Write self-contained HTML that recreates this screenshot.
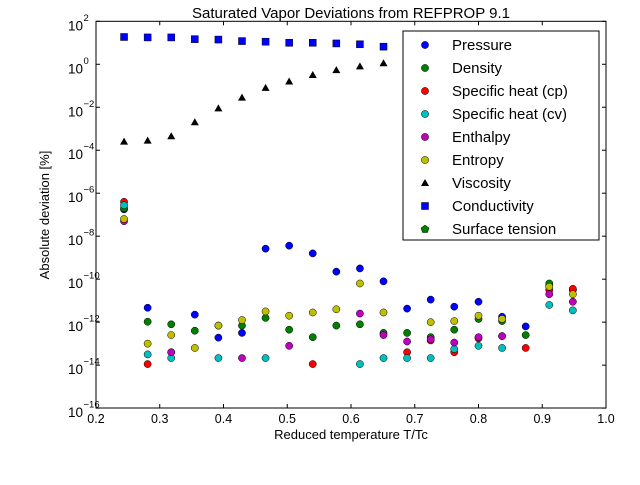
<!DOCTYPE html>
<html><head><meta charset="utf-8"><style>
body{margin:0;background:#fff;}
svg{font-family:"Liberation Sans","DejaVu Sans",sans-serif;}
</style></head><body>
<svg id="chart" width="640" height="480" xmlns="http://www.w3.org/2000/svg">
<rect x="0" y="0" width="640" height="480" fill="#fff"/>
<text x="351" y="18" font-size="15" text-anchor="middle">Saturated Vapor Deviations from REFPROP 9.1</text>
<g id="marks"></g>
<rect x="96" y="21.3" width="510" height="386.7" fill="none" stroke="#000" stroke-width="1"/>
<g id="axes"></g>
<text x="351" y="439" font-size="13" text-anchor="middle">Reduced temperature T/Tc</text>
<text transform="translate(49,215) rotate(-90)" font-size="13" text-anchor="middle">Absolute deviation [%]</text>
<g id="legend"></g>
</svg>
<script>
const temps=[0.244,0.281,0.318,0.355,0.392,0.429,0.466,0.503,0.540,0.577,0.614,0.651,0.688,0.725,0.762,0.800,0.837,0.874,0.911,0.948];
const pressure=[-6.75,-11.33,null,-11.65,-12.72,-12.5,-8.58,-8.44,-8.8,-9.65,-9.5,-10.1,-11.37,-10.95,-11.28,-11.05,-11.75,-12.2,-10.3,-10.5];
const density=[-6.7,-11.98,-12.1,-12.4,-12.16,-12.16,-11.8,-12.35,-12.7,-12.16,-12.1,-12.5,-12.5,-12.7,-12.35,-11.85,-11.95,-12.6,-10.2,-10.5];
const cp=[-6.4,-13.95,-13.4,null,null,null,null,null,-13.95,null,null,null,-13.4,-12.85,-13.4,-12.75,-12.65,-13.2,-10.5,-10.45];
const cv=[-6.56,-13.5,-13.67,null,-13.67,null,-13.67,null,null,null,-13.95,-13.67,-13.67,-13.67,-13.25,-13.1,-13.2,null,-11.2,-11.45];
const enthalpy=[-7.3,null,-13.4,null,null,-13.67,null,-13.1,null,null,-11.6,-12.6,-12.9,-12.8,-12.95,-12.7,-12.65,null,-10.7,-11.05];
const entropy=[-7.2,-13.0,-12.6,-13.2,-12.16,-11.9,-11.5,-11.7,-11.55,-11.4,-10.2,-11.55,null,-12.0,-11.95,-11.7,-11.85,null,-10.35,-10.7];
const viscosity=[-3.6,-3.55,-3.35,-2.7,-2.05,-1.55,-1.1,-0.8,-0.5,-0.27,-0.1,0.05];
const conductivity=[1.27,1.25,1.25,1.17,1.15,1.08,1.05,1.0,1.0,0.97,0.93,0.82];
const xTicks=["0.2","0.3","0.4","0.5","0.6","0.7","0.8","0.9","1.0"];
const yTickExps=[2,0,-2,-4,-6,-8,-10,-12,-14,-16];
const NS="http://www.w3.org/2000/svg";
function X(t){return 96+(t-0.2)*637.5;}
function Y(l){return 21.3+(2-l)*21.49;}
function el(tag,attrs,parent){const e=document.createElementNS(NS,tag);for(const k in attrs)e.setAttribute(k,attrs[k]);parent.appendChild(e);return e;}
const marks=document.getElementById('marks'),axes=document.getElementById('axes'),legend=document.getElementById('legend');
function circles(arr,color,name){arr.forEach((v,i)=>{if(v===null)return;const c=el('circle',{cx:X(temps[i]),cy:Y(v),r:3.6,fill:color,stroke:'#000','stroke-width':0.5},marks);

});}
circles(pressure,'#0000ff','pressure');
circles(density,'#008000','density');
circles(cp,'#ff0000','cp');
circles(cv,'#00bfbf','cv');
circles(enthalpy,'#bf00bf','enthalpy');
circles(entropy,'#bfbf00','entropy');
viscosity.forEach((v,i)=>{const x=X(temps[i]),y=Y(v);const p=el('polygon',{points:`${x},${y-4} ${x-4},${y+3} ${x+4},${y+3}`,fill:'#000'},marks);

});
conductivity.forEach((v,i)=>{const x=X(temps[i]),y=Y(v);const r=el('rect',{x:x-3.5,y:y-3.5,width:7,height:7,fill:'#0000ff',stroke:'#000','stroke-width':0.5},marks);

});
xTicks.forEach(t=>{const x=X(parseFloat(t));el('line',{x1:x,y1:408,x2:x,y2:404,stroke:'#000'},axes);el('line',{x1:x,y1:21.3,x2:x,y2:25.3,stroke:'#000'},axes);
const tx=el('text',{x:x,y:423,'font-size':12.5,'text-anchor':'middle'},axes);tx.textContent=t;

});
yTickExps.forEach(e=>{const y=Y(e);el('line',{x1:96,y1:y,x2:100,y2:y,stroke:'#000'},axes);el('line',{x1:606,y1:y,x2:602,y2:y,stroke:'#000'},axes);
const tx=el('text',{x:83,y:y+9,'font-size':13.5,'text-anchor':'end'},axes);tx.textContent='10';


const sp=el('text',{x:83.5,y:y-0.5,'font-size':9.5,'text-anchor':'start'},axes);sp.textContent=String(e).replace('-','\u2212');

});
const legNames=["Pressure","Density","Specific heat (cp)","Specific heat (cv)","Enthalpy","Entropy","Viscosity","Conductivity","Surface tension"];
const legColors=["#0000ff","#008000","#ff0000","#00bfbf","#bf00bf","#bfbf00","#000","#0000ff","#008000"];
const box=el('rect',{x:403,y:31,width:196,height:209,fill:'#fff',stroke:'#000'},legend);


legNames.forEach((n,i)=>{const y=45+i*23;let m;
if(i<6)m=el('circle',{cx:425,cy:y,r:3.6,fill:legColors[i],stroke:'#000','stroke-width':0.5},legend);
else if(i==6)m=el('polygon',{points:`425,${y-4} 421,${y+3} 429,${y+3}`,fill:'#000'},legend);
else if(i==7)m=el('rect',{x:421.5,y:y-3.5,width:7,height:7,fill:legColors[i],stroke:'#000','stroke-width':0.5},legend);
else m=el('polygon',{points:`425,${y-4} 429,${y-1} 427.5,${y+3.5} 422.5,${y+3.5} 421,${y-1}`,fill:legColors[i],stroke:'#000','stroke-width':0.5},legend);


const t=el('text',{x:452,y:y+5,'font-size':15},legend);t.textContent=n;

});
</script>
</body></html>
